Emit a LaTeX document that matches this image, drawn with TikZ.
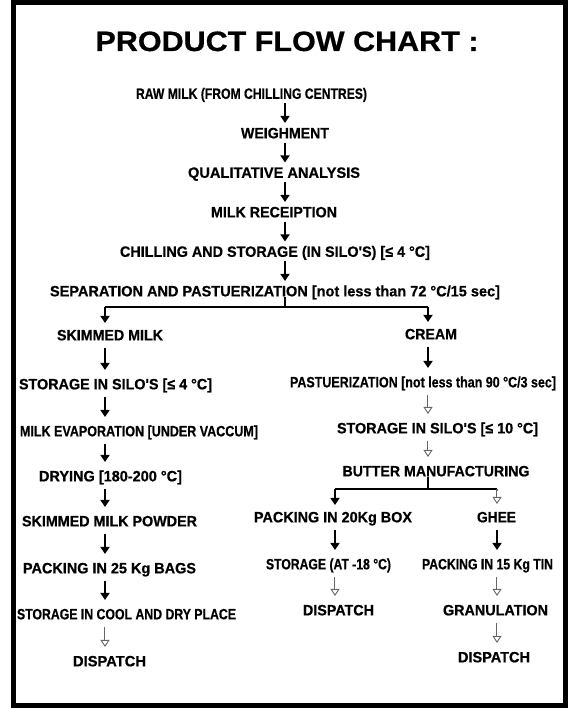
\documentclass[tikz,border=0pt]{standalone}
\usepackage{fontspec}
\setmainfont{Liberation Sans}[Ligatures=TeXOff, BoldFeatures={FakeBold=0.6}]
\usepackage{graphicx}
\usetikzlibrary{arrows.meta}
\newcommand\fitw[2]{\resizebox{#1pt}{\height}{#2}}
\begin{document}
\begin{tikzpicture}[x=1pt,y=-1pt,
  lbl/.style={font=\fontsize{15}{17}\selectfont\bfseries, inner sep=0pt, text height=10.7pt, text depth=0pt},
  ttl/.style={font=\fontsize{28}{32}\selectfont\bfseries, inner sep=0pt, text height=20pt, text depth=0pt},
  arrm/.style={line width=2pt, -{Triangle[width=9pt,length=7pt]}, shorten <=4pt, shorten >=4.5pt},
  arr/.style={line width=2pt, -{Triangle[width=9pt,length=7pt]}, shorten <=7pt, shorten >=8.5pt},
  holbase/.style={draw=black!60, line width=2.6pt, -{Triangle[open,width=9pt,length=7pt,line width=0.9pt]}},
  hol/.style={holbase, shorten <=7pt, shorten >=8.5pt,
    postaction={draw=white, line width=1pt, -, shorten <=7.6pt, shorten >=15pt}},
  brk/.style={line width=2.6pt},
  brkarr/.style={line width=2pt, -{Triangle[width=9pt,length=7pt]}, shorten >=6.5pt},
  brkhol/.style={holbase, shorten >=7.5pt,
    postaction={draw=white, line width=1pt, -, shorten <=2pt, shorten >=14pt}}]
\useasboundingbox (0,0) rectangle (575,708);
\fill[white] (0,0) rectangle (575,708);
\draw[line width=5pt] (13.5,2.5) rectangle (565,705.5);

% column coordinates
\coordinate (cM) at (285,0);
\coordinate (cL) at (105,0);
\coordinate (cR) at (428,0);
\coordinate (cP) at (335,0);
\coordinate (cG) at (497,0);

% title and main column
\node[ttl] (title) at (287,41) {\fitw{383}{PRODUCT FLOW CHART :}};
\node[lbl] (raw) at (251.5,93.5) {\fitw{231}{RAW MILK (FROM CHILLING CENTRES)}};
\node[lbl] (weigh) at (285,133) {\fitw{88}{WEIGHMENT}};
\node[lbl] (qual) at (274,172.5) {\fitw{172}{QUALITATIVE ANALYSIS}};
\node[lbl] (rec) at (274,212) {\fitw{126}{MILK RECEIPTION}};
\node[lbl] (chill) at (275,251.5) {\fitw{310}{CHILLING AND STORAGE (IN SILO'S) [≤ 4 °C]}};
\node[lbl] (sep) at (275,291) {\fitw{450}{SEPARATION AND PASTUERIZATION [not less than 72 °C/15 sec]}};

\draw[arrm] (raw.south -| cM) -- (weigh.north -| cM);
\draw[arrm] (weigh.south -| cM) -- (qual.north -| cM);
\draw[arrm] (qual.south -| cM) -- (rec.north -| cM);
\draw[arrm] (rec.south -| cM) -- (chill.north -| cM);
\draw[arrm] (chill.south -| cM) -- (sep.north -| cM);

% left column
\node[lbl] (skim) at (110,335) {\fitw{106}{SKIMMED MILK}};
\node[lbl] (sto4) at (115.5,384) {\fitw{193}{STORAGE IN SILO'S [≤ 4 °C]}};
\node[lbl] (evap) at (139,431) {\fitw{238}{MILK EVAPORATION [UNDER VACCUM]}};
\node[lbl] (dry) at (110.5,476) {\fitw{143}{DRYING [180-200 °C]}};
\node[lbl] (smp) at (109.5,521) {\fitw{175}{SKIMMED MILK POWDER}};
\node[lbl] (p25) at (109.5,568) {\fitw{173}{PACKING IN 25 Kg BAGS}};
\node[lbl] (cool) at (126.5,614) {\fitw{219}{STORAGE IN COOL AND DRY PLACE}};
\node[lbl] (dispL) at (109.5,661) {\fitw{73}{DISPATCH}};

% right column
\node[lbl] (cream) at (431,334) {\fitw{52}{CREAM}};
\node[lbl] (past) at (423,382) {\fitw{266}{PASTUERIZATION [not less than 90 °C/3 sec]}};
\node[lbl] (sto10) at (437.5,428) {\fitw{201}{STORAGE IN SILO'S [≤ 10 °C]}};
\node[lbl] (butter) at (436,471) {\fitw{187}{BUTTER MANUFACTURING}};
\node[lbl] (box20) at (333,517) {\fitw{158}{PACKING IN 20Kg BOX}};
\node[lbl] (ghee) at (496.5,517) {\fitw{39}{GHEE}};
\node[lbl] (sto18) at (328.5,564) {\fitw{125}{STORAGE (AT -18 °C)}};
\node[lbl] (p15) at (487.5,564) {\fitw{131}{PACKING IN 15 Kg TIN}};
\node[lbl] (dispM) at (338.5,610) {\fitw{71}{DISPATCH}};
\node[lbl] (gran) at (495.5,610) {\fitw{105}{GRANULATION}};
\node[lbl] (dispR) at (494,657) {\fitw{72}{DISPATCH}};

% main split bracket
\coordinate (bM) at (285,307);
\coordinate (bL) at (105,307);
\coordinate (bR) at (428,307);
\draw[brk] (sep.south -| bM) -- (bM);
\draw[brk] (bL) -- (bR);
\draw[brkarr] (bL) -- (skim.north -| bL);
\draw[brkarr] (bR) -- (cream.north -| bR);

% left column arrows
\draw[arr] (skim.south -| cL) -- (sto4.north -| cL);
\draw[arr] (sto4.south -| cL) -- (evap.north -| cL);
\draw[arr] (evap.south -| cL) -- (dry.north -| cL);
\draw[arr] (dry.south -| cL) -- (smp.north -| cL);
\draw[arr] (smp.south -| cL) -- (p25.north -| cL);
\draw[arr] (p25.south -| cL) -- (cool.north -| cL);
\draw[hol] (cool.south -| cL) -- (dispL.north -| cL);

% right column arrows
\draw[arr] (cream.south -| cR) -- (past.north -| cR);
\draw[hol] (past.south -| cR) -- (sto10.north -| cR);
\draw[hol] (sto10.south -| cR) -- (butter.north -| cR);

% butter bracket
\coordinate (uB) at (428,489);
\coordinate (uL) at (335,489);
\coordinate (uR) at (497,489);
\draw[line width=2.2pt] (butter.south -| uB) -- (uB);
\draw[line width=2.2pt] (uL) -- (uR);
\draw[brkarr] (uL) -- (box20.north -| uL);
\draw[brkhol] (uR) -- (ghee.north -| uR);

% lower branches
\draw[arr] (box20.south -| cP) -- (sto18.north -| cP);
\draw[hol] (sto18.south -| cP) -- (dispM.north -| cP);
\draw[arr] (ghee.south -| cG) -- (p15.north -| cG);
\draw[hol] (p15.south -| cG) -- (gran.north -| cG);
\draw[hol] (gran.south -| cG) -- (dispR.north -| cG);
\end{tikzpicture}
\end{document}
